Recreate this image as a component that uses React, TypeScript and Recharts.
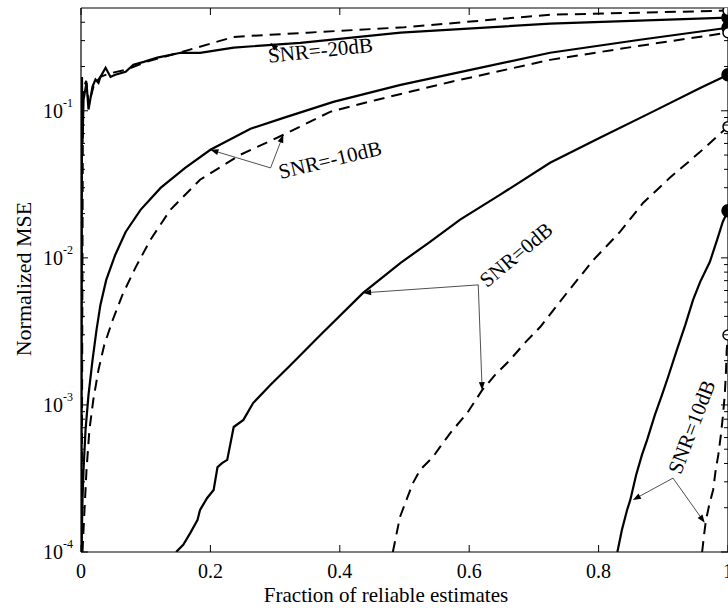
import React from 'react';
import { LineChart, Line, XAxis, YAxis, ReferenceLine, ReferenceDot } from 'recharts';

type Pt = [number, number];

// SNR = -20 dB
const snrM20Solid: Pt[] = [
  [0.0008, 1e-4], [0.0015, 0.17], [0.0023, 0.06], [0.0039, 0.119], [0.0085, 0.155], [0.0116, 0.102],
  [0.0178, 0.146], [0.0224, 0.163], [0.027, 0.155], [0.03, 0.17], [0.038, 0.196], [0.0456, 0.17],
  [0.053, 0.176], [0.069, 0.184], [0.081, 0.206], [0.097, 0.215], [0.118, 0.23], [0.154, 0.248],
  [0.184, 0.248], [0.236, 0.269], [0.339, 0.29], [0.494, 0.34], [0.725, 0.391], [1.0, 0.43],
];
const snrM20Dashed: Pt[] = [
  [0.001, 1e-4], [0.003, 0.14], [0.008, 0.16], [0.012, 0.11], [0.02, 0.15], [0.03, 0.17],
  [0.045, 0.18], [0.07, 0.19], [0.1, 0.215], [0.154, 0.25], [0.236, 0.318], [0.35, 0.34],
  [0.5, 0.37], [0.725, 0.45], [1.0, 0.48],
];
// SNR = -10 dB
const snrM10Solid: Pt[] = [
  [0.0008, 1e-4], [0.0023, 2.26e-4], [0.0039, 3.61e-4], [0.007, 6.76e-4], [0.0116, 1.17e-3],
  [0.0178, 2.02e-3], [0.024, 3.24e-3], [0.03, 4.79e-3], [0.039, 7.08e-3], [0.053, 0.0105],
  [0.069, 0.015], [0.092, 0.0212], [0.123, 0.0299], [0.161, 0.0409], [0.2, 0.0543], [0.262, 0.0755],
  [0.313, 0.0895], [0.39, 0.115], [0.494, 0.15], [0.602, 0.19], [0.725, 0.248], [0.864, 0.304], [1.0, 0.367],
];
const snrM10Dashed: Pt[] = [
  [0.0023, 1e-4], [0.0054, 1.93e-4], [0.0085, 3.61e-4], [0.013, 6.76e-4], [0.019, 1.08e-3],
  [0.027, 1.73e-3], [0.036, 2.56e-3], [0.049, 3.78e-3], [0.064, 5.6e-3], [0.084, 8.55e-3],
  [0.107, 0.0132], [0.138, 0.0212], [0.184, 0.034], [0.246, 0.0502], [0.313, 0.0687], [0.385, 0.0984],
  [0.458, 0.119], [0.571, 0.157], [0.725, 0.222], [0.864, 0.277], [1.0, 0.34],
];
// SNR = 0 dB
const snr0Solid: Pt[] = [
  [0.147, 1e-4], [0.158, 1.12e-4], [0.169, 1.35e-4], [0.18, 1.65e-4], [0.184, 1.93e-4], [0.195, 2.33e-4],
  [0.205, 2.64e-4], [0.211, 3.78e-4], [0.218, 4.02e-4], [0.226, 4.23e-4], [0.236, 7.08e-4], [0.251, 7.91e-4],
  [0.266, 1.03e-3], [0.293, 1.37e-3], [0.324, 1.87e-3], [0.37, 2.99e-3], [0.436, 5.78e-3], [0.494, 9.25e-3],
  [0.54, 0.0129], [0.586, 0.0182], [0.648, 0.0269], [0.725, 0.0443], [0.802, 0.0655], [0.88, 0.0968],
  [0.957, 0.143], [1.0, 0.176],
];
const snr0Dashed: Pt[] = [
  [0.482, 1e-4], [0.493, 1.73e-4], [0.503, 2.26e-4], [0.513, 2.94e-4], [0.524, 3.61e-4], [0.544, 4.43e-4],
  [0.555, 5.18e-4], [0.571, 6.46e-4], [0.597, 8.83e-4], [0.62, 1.26e-3], [0.64, 1.6e-3], [0.663, 2.02e-3],
  [0.686, 2.64e-3], [0.71, 3.4e-3], [0.751, 5.78e-3], [0.792, 9.68e-3], [0.833, 0.015], [0.869, 0.0237],
  [0.91, 0.035], [0.957, 0.0526], [1.0, 0.078],
];
// SNR = 10 dB
const snr10Solid: Pt[] = [
  [0.829, 1e-4], [0.836, 1.41e-4], [0.844, 1.93e-4], [0.849, 2.26e-4], [0.858, 3.34e-4], [0.867, 4.57e-4],
  [0.875, 5.78e-4], [0.887, 8.55e-4], [0.898, 1.17e-3], [0.907, 1.53e-3], [0.921, 2.37e-3], [0.934, 3.5e-3],
  [0.946, 5.18e-3], [0.957, 6.87e-3], [0.972, 9.4e-3], [0.983, 0.0132], [0.992, 0.0176], [1.0, 0.0209],
];
const snr10Dashed: Pt[] = [
  [0.96, 1e-4], [0.963, 1.31e-4], [0.966, 1.65e-4], [0.971, 2.09e-4], [0.977, 2.64e-4], [0.981, 3.61e-4],
  [0.985, 4.57e-4], [0.989, 6.25e-4], [0.992, 8.28e-4], [0.995, 1.17e-3], [0.997, 1.73e-3], [0.998, 2.37e-3],
  [1.0, 2.99e-3],
];

// Axes
const xTicks = [0, 0.2, 0.4, 0.6, 0.8, 1];
const xTickLabels = ['0', '0.2', '0.4', '0.6', '0.8', '1'];
const yMajor = [1e-4, 1e-3, 1e-2, 1e-1];
const yExps = ['-4', '-3', '-2', '-1'];
const yMinor = [
  2e-4, 3e-4, 4e-4, 5e-4, 6e-4, 7e-4, 8e-4, 9e-4,
  2e-3, 3e-3, 4e-3, 5e-3, 6e-3, 7e-3, 8e-3, 9e-3,
  2e-2, 3e-2, 4e-2, 5e-2, 6e-2, 7e-2, 8e-2, 9e-2,
  0.2, 0.3, 0.4,
];
const yTicks = [...yMajor, ...yMinor].sort((a, b) => a - b);
const xTitle = 'Fraction of reliable estimates';
const yTitle = 'Normalized MSE';

// Annotations: label, label position, vertex, solid tip, dashed tip
const annoLabels = ['SNR=-20dB', 'SNR=-10dB', 'SNR=0dB', 'SNR=10dB'];
const annoTextPos: Pt[] = [[0.37, 0.258], [0.385, 0.0464], [0.6726, 0.0105], [0.944, 7.08e-4]];
const annoVertex: Pt[] = [[0.308, 0.25], [0.293, 0.0409], [0.614, 6.55e-3], [0.915, 3.18e-4]];
const annoTipA: Pt[] = [[0.2927, 0.29], [0.2, 0.0543], [0.436, 5.78e-3], [0.853, 2.26e-4]];
const annoTipB: (Pt | null)[] = [null, [0.3127, 0.0687], [0.62, 1.26e-3], [0.964, 1.58e-4]];
const annoAngles = [-6, -13.5, -40, -69];

const toData = (pts: Pt[]) => pts.map(([x, y]) => ({ x, y }));

const SERIF = '"Liberation Serif", "Times New Roman", serif';
const TICK_FONT = 20;

const W = 760;
const H = 613;
const M = { top: 7, right: 31, bottom: 60, left: 80 };

const fmtX = (v: number) => {
  const i = xTicks.findIndex((t) => Math.abs(t - v) < 1e-9);
  return i >= 0 ? xTickLabels[i] : '';
};
const isMajorY = (v: number) => yMajor.findIndex((t) => Math.abs(t - v) / t < 1e-6);

const LeftTick = (p: any) => {
  const { x, y, payload } = p;
  const mi = isMajorY(payload.value);
  const len = mi >= 0 ? 7 : 4;
  return (
    <g>
      <line x1={x} x2={x + len} y1={y} y2={y} stroke="#000" strokeWidth={1} />
      {mi >= 0 && (
        <g fontFamily={SERIF} fill="#000">
          <text x={x - 18} y={y} textAnchor="end" dominantBaseline="central" fontSize={TICK_FONT}>10</text>
          <text x={x - 8} y={y - 8} textAnchor="end" dominantBaseline="central" fontSize={12}>{yExps[mi]}</text>
        </g>
      )}
    </g>
  );
};
const RightTick = (p: any) => {
  const { x, y, payload } = p;
  const mi = isMajorY(payload.value);
  const len = mi >= 0 ? 7 : 4;
  return <line x1={x} x2={x - len} y1={y} y2={y} stroke="#000" strokeWidth={1} />;
};
const BottomTick = (p: any) => {
  const { x, y, payload } = p;
  return (
    <g>
      <line x1={x} x2={x} y1={y} y2={y - 7} stroke="#000" strokeWidth={1} />
      <text x={x} y={y + 19} textAnchor="middle" dominantBaseline="central" fontFamily={SERIF} fontSize={TICK_FONT} fill="#000">
        {fmtX(payload.value)}
      </text>
    </g>
  );
};
const TopTick = (p: any) => {
  const { x, y } = p;
  return <line x1={x} x2={x} y1={y} y2={y + 7} stroke="#000" strokeWidth={1} />;
};

const arrowShape = (p: any) => {
  const { x1, y1, x2, y2 } = p;
  const ang = Math.atan2(y2 - y1, x2 - x1);
  const L = 8;
  const HW = 3;
  const bx = x2 - L * Math.cos(ang);
  const by = y2 - L * Math.sin(ang);
  const px = -Math.sin(ang) * HW;
  const py = Math.cos(ang) * HW;
  return (
    <g>
      <line x1={x1} y1={y1} x2={bx} y2={by} stroke="#222" strokeWidth={0.8} />
      <polygon points={`${x2},${y2} ${bx + px},${by + py} ${bx - px},${by - py}`} fill="#000" />
    </g>
  );
};

const endDot = (filled: boolean, n: number) => (p: any) => {
  const k = `d-${p.index}`;
  if (p.index !== n - 1) return <g key={k} />;
  return (
    <circle key={k} cx={p.cx} cy={p.cy} r={filled ? 6 : 5} fill={filled ? '#000' : '#fff'} stroke="#000" strokeWidth={1.5} strokeDasharray="none" />
  );
};

const series: { pts: Pt[]; dashed: boolean }[] = [
  { pts: snrM20Solid, dashed: false },
  { pts: snrM20Dashed, dashed: true },
  { pts: snrM10Solid, dashed: false },
  { pts: snrM10Dashed, dashed: true },
  { pts: snr0Solid, dashed: false },
  { pts: snr0Dashed, dashed: true },
  { pts: snr10Solid, dashed: false },
  { pts: snr10Dashed, dashed: true },
];

export default function App() {
  return (
    <div style={{ position: 'absolute', left: 0, top: 0, width: 728, height: 613, overflow: 'hidden', background: '#fff' }}>
      <LineChart width={W} height={H} margin={M} style={{ fontFamily: SERIF }}>
        <XAxis
          xAxisId="b"
          dataKey="x"
          type="number"
          domain={[0, 1]}
          ticks={xTicks}
          interval={0}
          allowDataOverflow
          height={1}
          tickSize={0}
          tickMargin={0}
          tickLine={false}
          axisLine={{ stroke: '#000', strokeWidth: 1.2 }}
          tick={(p: any) => <BottomTick {...p} />}
        />
        <XAxis
          xAxisId="t"
          orientation="top"
          dataKey="x"
          type="number"
          domain={[0, 1]}
          ticks={xTicks}
          interval={0}
          allowDataOverflow
          height={1}
          tickSize={0}
          tickMargin={0}
          tickLine={false}
          axisLine={{ stroke: '#000', strokeWidth: 1.2 }}
          tick={(p: any) => <TopTick {...p} />}
        />
        <YAxis
          yAxisId="l"
          type="number"
          scale="log"
          domain={[1e-4, 0.5]}
          ticks={yTicks}
          interval={0}
          allowDataOverflow
          width={1}
          tickSize={0}
          tickMargin={0}
          tickLine={false}
          axisLine={{ stroke: '#000', strokeWidth: 1.2 }}
          tick={(p: any) => <LeftTick {...p} />}
        />
        <YAxis
          yAxisId="r"
          orientation="right"
          type="number"
          scale="log"
          domain={[1e-4, 0.5]}
          ticks={yTicks}
          interval={0}
          allowDataOverflow
          width={1}
          tickSize={0}
          tickMargin={0}
          tickLine={false}
          axisLine={{ stroke: '#000', strokeWidth: 1.2 }}
          tick={(p: any) => <RightTick {...p} />}
        />
        {series.map((s, i) => (
          <Line
            key={`s${i}`}
            xAxisId="b"
            yAxisId="l"
            data={toData(s.pts)}
            dataKey="y"
            type="linear"
            stroke="#000"
            strokeWidth={s.dashed ? 2 : 2.2}
            strokeDasharray={s.dashed ? '11 7' : undefined}
            dot={endDot(!s.dashed, s.pts.length)}
            activeDot={false}
            isAnimationActive={false}
          />
        ))}
        {annoLabels.map((lab, i) => (
          <ReferenceLine
            key={`a${i}`}
            xAxisId="b"
            yAxisId="l"
            segment={[{ x: annoVertex[i][0], y: annoVertex[i][1] }, { x: annoTipA[i][0], y: annoTipA[i][1] }]}
            shape={arrowShape}
          />
        ))}
        {annoLabels.map((lab, i) =>
          annoTipB[i] ? (
            <ReferenceLine
              key={`b${i}`}
              xAxisId="b"
              yAxisId="l"
              segment={[{ x: annoVertex[i][0], y: annoVertex[i][1] }, { x: (annoTipB[i] as Pt)[0], y: (annoTipB[i] as Pt)[1] }]}
              shape={arrowShape}
            />
          ) : null
        )}
        {annoLabels.map((lab, i) => (
          <ReferenceDot
            key={`t${i}`}
            xAxisId="b"
            yAxisId="l"
            x={annoTextPos[i][0]}
            y={annoTextPos[i][1]}
            r={0}
            shape={(p: any) => (
              <text
                x={p.cx}
                y={p.cy}
                transform={`rotate(${annoAngles[i]} ${p.cx} ${p.cy})`}
                textAnchor="middle"
                dominantBaseline="central"
                fontFamily={SERIF}
                fontSize={21}
                fill="#000"
              >
                {lab}
              </text>
            )}
          />
        ))}
      </LineChart>
      <svg width={728} height={613} style={{ position: 'absolute', left: 0, top: 0, pointerEvents: 'none' }}>
        <text x={386} y={602} textAnchor="middle" fontFamily={SERIF} fontSize={21} fill="#000">{xTitle}</text>
        <text transform="translate(31,279) rotate(-90)" textAnchor="middle" fontFamily={SERIF} fontSize={22} fill="#000">{yTitle}</text>
      </svg>
    </div>
  );
}
